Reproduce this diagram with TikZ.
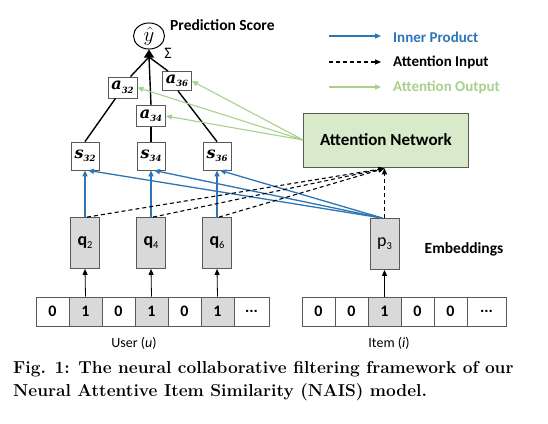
\documentclass[tikz,border=0pt]{standalone}
\usepackage{fontspec}
\setsansfont{Carlito}
\newfontfamily\carl{Carlito}
\newfontfamily\djs{DejaVu Serif}
\usetikzlibrary{arrows.meta,shapes.geometric,calc}
\definecolor{ipblue}{RGB}{46,117,182}
\definecolor{aogreen}{RGB}{169,209,142}
\definecolor{netfill}{RGB}{216,234,202}
\definecolor{cellgray}{RGB}{217,217,217}
\definecolor{boxline}{RGB}{89,89,89}
\newcommand{\varlab}[2]{\djs\fontsize{16}{16}\selectfont\bfseries\itshape #1\raisebox{-3.5pt}{\fontsize{8.5}{8.5}\selectfont\bfseries\itshape #2}}
\newcommand{\emblab}[2]{#1\raisebox{-3pt}{\fontsize{10.5}{10.5}\selectfont\mdseries #2}}
\tikzset{
  abox/.style={draw=boxline,fill=white,line width=0.8pt,minimum width=29pt,minimum height=21pt,inner sep=0pt},
  sbox/.style={draw=boxline,fill=white,line width=0.8pt,minimum width=28pt,minimum height=28pt,inner sep=0pt},
  ebox/.style={draw=boxline,fill=cellgray,line width=0.8pt,minimum width=29pt,minimum height=51pt,inner sep=0pt,font=\carl\bfseries\fontsize{18}{18}\selectfont},
  cellw/.style={draw=boxline,fill=white,line width=0.7pt,minimum width=33pt,minimum height=29pt,inner sep=0pt,font=\carl\bfseries\fontsize{16}{16}\selectfont},
  cellg/.style={cellw,fill=cellgray},
  celld/.style={cellw,minimum width=35pt},
  blk/.style={black,line width=1.4pt},
  inprod/.style={ipblue,line width=1.3pt,-{Triangle[length=6pt,width=5pt]}},
  attin/.style={black,dashed,line width=1.1pt,dash pattern=on 4pt off 3pt,-{Triangle[length=6pt,width=5pt]}},
  attout/.style={aogreen,line width=1.1pt,-{Triangle[length=6pt,width=5pt]}},
  upar/.style={black,line width=0.8pt,-{Triangle[length=6pt,width=5pt]}},
  lab/.style={font=\carl\bfseries\fontsize{15.5}{15.5}\selectfont,inner sep=0pt},
  leg/.style={font=\carl\bfseries\fontsize{15}{15}\selectfont,inner sep=0pt,anchor=west},
}
\begin{document}
\begin{tikzpicture}[x=1pt,y=-1pt]
\useasboundingbox[fill=white] (0,0) rectangle (548,423);
% output
\node[draw=black,line width=1pt,ellipse,minimum width=31pt,minimum height=26pt,inner sep=0pt,font=\fontsize{20}{20}\selectfont] (y) at (149,36) {$\hat{y}$};
\node[lab,anchor=west] (ps) at (170,25) {Prediction Score};
\node[font=\carl\fontsize{16}{16}\selectfont,inner sep=0pt] (sig) at (168,53) {Σ};
\coordinate (j) at (149,57);
% attention weights
\node[abox] (a32) at (122.5,87.5) {\varlab{a}{32}};
\node[abox] (a34) at (151,116) {\varlab{a}{34}};
\node[abox,minimum height=19pt] (a36) at (177,81) {\varlab{a}{36}};
% similarities
\node[sbox] (s32) at (85,156) {\varlab{s}{32}};
\node[sbox] (s34) at (151,156) {\varlab{s}{34}};
\node[sbox] (s36) at (217,156) {\varlab{s}{36}};
% attention network
\node[draw=boxline,fill=netfill,line width=0.8pt,minimum width=165pt,minimum height=54pt,inner sep=0pt,font=\carl\bfseries\fontsize{17}{17}\selectfont] (att) at (386,140) {Attention Network};
% embeddings
\node[ebox] (q2) at (85,243) {\emblab{q}{2}};
\node[ebox] (q4) at (151,243) {\emblab{q}{4}};
\node[ebox] (q6) at (217,243) {\emblab{q}{6}};
\node[ebox,font=\carl\fontsize{18}{18}\selectfont] (p3) at (384.5,244) {\emblab{p}{3}};
\node[lab] (emb) at (464,249) {Embeddings};
% user row
\node[cellw] (u1) at (52.5,311.5) {0};
\node[cellg] (u2) at (85.5,311.5) {1};
\node[cellw] (u3) at (118.5,311.5) {0};
\node[cellg] (u4) at (151.5,311.5) {1};
\node[cellw] (u5) at (184.5,311.5) {0};
\node[cellg] (u6) at (217.5,311.5) {1};
\node[celld] (u7) at (251.5,311.5) {...};
% item row
\node[cellw] (i1) at (318.5,311.5) {0};
\node[cellw] (i2) at (351.5,311.5) {0};
\node[cellg] (i3) at (384.5,311.5) {1};
\node[cellw] (i4) at (417.5,311.5) {0};
\node[cellw] (i5) at (450.5,311.5) {0};
\node[celld,minimum width=39pt] (i6) at (486.5,311.5) {...};
\node[font=\carl\fontsize{14}{14}\selectfont,inner sep=0pt] (ulab) at (134,343) {User (\textit{u})};
\node[font=\carl\fontsize{14}{14}\selectfont,inner sep=0pt] (ilab) at (389,343) {Item (\textit{i})};
% legend
\coordinate (l1a) at (329,36); \coordinate (l1b) at (381,36);
\coordinate (l2a) at (329,62); \coordinate (l2b) at (381,62);
\coordinate (l3a) at (329,87); \coordinate (l3b) at (381,87);
\draw[inprod] (l1a) -- (l1b);
\draw[attin] (l2a) -- (l2b);
\draw[attout] (l3a) -- (l3b);
\node[leg,text=ipblue] (t1) at (393,37) {Inner Product};
\node[leg] (t2) at (393,62) {Attention Input};
\node[leg,text=aogreen] (t3) at (393,87) {Attention Output};
% black tree lines
\draw[blk] (s32.north) -- ([xshift=-7pt]a32.south);
\draw[blk] ([xshift=8pt]a32.north) -- (j);
\draw[blk] (s34.north) -- (a34.south);
\draw[blk] (a34.north) -- (j);
\draw[blk] (s36.north) -- ([xshift=1pt]a36.south);
\draw[blk] ([xshift=-9pt]a36.north) -- (j);
\draw[black,line width=1pt,-{Triangle[length=8pt,width=10pt]}] (j) -- (y.south);
% attention output
\draw[attout] (att.west) -- (a32.east);
\draw[attout] (att.west) -- (a34.east);
\draw[attout] (att.west) -- (a36.east);
% inner product
\draw[inprod] (q2.north) -- (s32.south);
\draw[inprod] (q4.north) -- (s34.south);
\draw[inprod] (q6.north) -- (s36.south);
\draw[inprod] ([xshift=-2pt]p3.north) -- ([xshift=3pt]s32.south);
\draw[inprod] ([xshift=-2pt]p3.north) -- ([xshift=3pt]s34.south);
\draw[inprod] ([xshift=-2pt]p3.north) -- ([xshift=3pt]s36.south);
% attention input
\coordinate (ain) at ($(p3.north |- att.south)+(0,1)$);
\draw[attin] ([xshift=2pt]q2.north) -- (ain);
\draw[attin] ([xshift=2pt]q4.north) -- (ain);
\draw[attin] ([xshift=2pt]q6.north) -- (ain);
\draw[attin] (p3.north) -- (ain);
% one-hot to embeddings
\draw[upar] (u2.north) -- (q2.south);
\draw[upar] (u4.north) -- (q4.south);
\draw[upar] (u6.north) -- (q6.south);
\draw[upar] (i3.north) -- (p3.south);
% caption
\node[anchor=west,inner sep=0pt,font=\rmfamily\bfseries\fontsize{17.3}{17.3}\selectfont] (cap1) at (13,369) {Fig. 1: The neural collaborative filtering framework of our};
\node[anchor=west,inner sep=0pt,font=\rmfamily\bfseries\fontsize{17.3}{17.3}\selectfont] (cap2) at (13,392) {Neural Attentive Item Similarity (NAIS) model.};
\end{tikzpicture}
\end{document}
